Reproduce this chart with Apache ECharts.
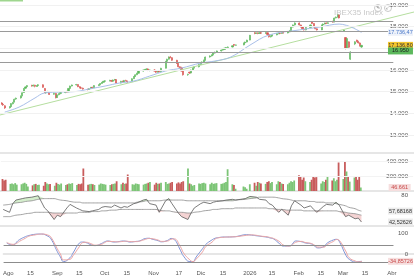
<!DOCTYPE html>
<html>
<head>
<meta charset="utf-8">
<script src="https://cdn.jsdelivr.net/npm/echarts@6/dist/echarts.min.js"></script>
<style>
  html, body { margin: 0; padding: 0; background: #fff; }
  #chart { width: 414px; height: 276px; }
</style>
</head>
<body>
<div id="chart"></div>
<script>
(function () {
  'use strict';

  // ---- data ----
  var firstDay = '2025-07-30', lastDay = '2026-03-13';
  var holidays = ['2025-12-25', '2025-12-26', '2026-01-01'];

  // [open, close, low, high] per trading day
  var candles = [
    [14480,14430,14390,14520],[14420,14390,14340,14470],[14350,14250,14200,14380],[14260,14300,14220,14340],
    [14310,14450,14290,14470],[14440,14500,14410,14530],[14520,14650,14500,14680],[14660,14700,14620,14730],
    [14710,14800,14680,14830],[14810,14950,14790,14970],[14960,15150,14940,15170],[15160,15220,15120,15250],
    [15230,15280,15200,15300],[15290,15260,15230,15320],[15260,15300,15240,15330],[15300,15250,15200,15320],
    [15240,15280,15220,15300],[15280,15320,15250,15350],[15320,15200,15180,15340],[15150,14960,14930,15170],
    [14950,14990,14900,15020],[14990,15010,14960,15040],[15000,14870,14850,15010],[14880,14920,14860,14950],
    [14920,14720,14690,14940],[14730,14850,14710,14870],[14860,14910,14830,14930],[14920,14960,14880,15000],
    [14960,15000,14930,15030],[15000,14980,14950,15040],[14990,15150,14980,15170],[15150,15260,15140,15280],
    [15260,15310,15240,15330],[15310,15330,15280,15360],[15330,15230,15210,15350],[15230,15180,15150,15260],
    [15180,15160,15120,15220],[15160,15120,15090,15190],[15110,15100,15060,15140],[15100,15140,15080,15170],
    [15140,15200,15120,15220],[15200,15170,15140,15230],[15170,15280,15160,15300],[15280,15320,15260,15340],
    [15320,15380,15300,15400],[15380,15430,15360,15450],[15430,15480,15410,15500],[15480,15500,15460,15530],
    [15500,15520,15470,15550],[15520,15480,15450,15540],[15480,15540,15460,15560],[15540,15560,15510,15590],
    [15560,15400,15380,15580],[15400,15480,15380,15500],[15480,15450,15400,15510],[15450,15520,15430,15540],
    [15520,15500,15470,15550],[15490,15450,15400,15510],[15460,15600,15450,15620],[15600,15700,15590,15720],
    [15700,15780,15680,15800],[15780,15850,15760,15870],[15850,15950,15830,15970],[15950,16000,15920,16030],
    [16000,16020,15970,16050],[16020,16050,15990,16080],[16050,15980,15950,16070],[15980,16000,15940,16030],
    [16000,15950,15920,16040],[15950,15900,15860,15980],[15900,15960,15880,15990],[15960,15920,15890,15990],
    [15920,16080,15900,16100],[16080,16400,16070,16420],[16400,16500,16380,16520],[16500,16600,16480,16630],
    [16600,16580,16540,16650],[16570,16450,16420,16600],[16450,16300,16280,16470],[16300,16150,16120,16320],
    [16150,16100,16060,16180],[16100,15950,15920,16150],[15950,15780,15740,15970],[15780,15800,15730,15830],
    [15900,15860,15820,15920],[15860,16000,15840,16020],[16000,16100,15980,16120],[16100,16150,16070,16170],
    [16150,16250,16120,16270],[16250,16350,16230,16370],[16350,16370,16320,16400],[16370,16450,16350,16480],
    [16450,16600,16430,16620],[16600,16650,16570,16680],[16650,16700,16620,16720],[16700,16780,16680,16800],
    [16780,16820,16750,16850],[16820,16880,16800,16900],[16880,16920,16850,16950],[16920,16950,16890,16980],
    [16950,17010,16930,17030],[17010,17040,16980,17060],[17040,17060,17010,17090],[17060,17120,17040,17140],
    [17180,17140,17100,17200],[17140,17160,17120,17180],[17160,17250,17140,17270],[17250,17290,17220,17310],
    [17290,17380,17270,17400],[17380,17600,17370,17620],[17720,17690,17650,17750],[17690,17710,17660,17740],
    [17710,17690,17650,17740],[17690,17720,17670,17750],[17720,17700,17670,17760],[17700,17720,17660,17750],
    [17720,17640,17600,17740],[17640,17530,17500,17660],[17530,17580,17500,17600],[17580,17620,17550,17650],
    [17620,17680,17600,17700],[17680,17710,17650,17740],[17710,17690,17650,17730],[17690,17730,17670,17760],
    [17730,17710,17680,17750],[17710,17760,17690,17780],[17760,17820,17740,17850],[17820,17980,17800,18000],
    [17980,18080,17960,18100],[18080,18170,18050,18200],[18170,18080,18050,18200],[18080,17990,17960,18100],
    [17990,17900,17870,18010],[17880,17850,17820,17930],[17850,17960,17830,17980],[17960,18080,17940,18100],
    [18220,18150,18120,18250],[18150,18000,17980,18170],[18000,17900,17880,18020],[17900,17850,17820,17930],
    [17850,18080,17840,18100],[18080,18120,18050,18150],[18120,18170,18100,18190],[18170,18150,18120,18200],
    [18150,18180,18130,18210],[18250,18210,18180,18270],[18210,18400,18200,18420],[18400,18440,18380,18470],
    [18440,18540,18420,18570],[18540,18400,18380,18560],[17800,17840,17780,17870],[17500,17000,16950,17520],
    [17000,17450,16980,17480],[17300,17050,17000,17320],[16500,16830,16460,16870],[17200,17300,17150,17330],
    [17380,17320,17280,17400],[17320,17250,17220,17350],[17250,17120,17080,17280],[17060,17137,17020,17160]
  ];

  var volumes = [
    160,140,150,95,100,90,105,85,90,100,110,95,60,75,90,95,80,85,70,120,
    100,90,95,70,110,95,85,100,80,90,100,95,105,80,95,90,100,300,85,90,
    95,90,80,85,100,95,90,85,80,90,95,100,130,90,110,95,100,220,90,85,
    100,95,90,85,95,100,110,120,85,110,95,100,110,120,95,100,110,120,100,115,
    100,120,130,300,100,90,70,80,100,95,105,110,100,90,110,95,100,105,95,100,
    110,120,290,90,80,30,60,50,30,90,110,70,120,110,100,95,120,130,105,120,
    90,130,120,100,95,90,110,130,120,140,210,200,150,180,130,120,150,190,180,185,
    100,130,120,150,190,140,170,130,150,380,160,390,260,200,125,180,200,150,190,46.661
  ];

  // oscillators, every second trading day (indices 1, 3, ... 159)
  var rsi = [
    60,56,68,73,75,76,77,78,79,62,58,46,52,50,62,67,62,60,58,57,
    58,60,63,64,63,66,62,64,63,68,69,73,74,68,66,56,72,75,68,55,
    50,46,55,62,68,70,68,70,71,72,73,74,73,75,78,77,74,73,68,66,
    56,60,52,65,72,66,62,65,60,56,64,67,66,70,66,50,52,47,48,42.52626
  ];
  var rsiUpper = [
    66,67,68,69,70,71,72,73,74,75,75,75,74,73,72,71,70,70,69,69,
    69,69,69,69,69,69,69,69,69,69,70,71,72,72,72,72,73,73,73,73,
    73,72,72,72,72,72,72,72,72,72,72,72,73,74,75,76,77,77,77,77,
    76,75,74,73,72,72,72,71,71,70,70,69,69,68,67,65,63,61,59,57.68168
  ];
  var rsiLower = [
    50,50,51,52,53,54,55,56,56,56,56,55,55,55,55,55,55,56,56,56,
    57,57,58,58,59,59,60,60,60,60,60,60,60,60,60,59,58,58,57,56,
    56,55,55,56,57,58,59,60,60,61,61,61,62,62,62,62,62,62,61,61,
    60,60,59,59,59,59,58,58,58,58,58,58,58,58,57,56,55,54,53,52
  ];
  var stochK = [
    52,42,55,68,83,88,94,95,95,85,72,12,-14,-36,-18,5,52,57,55,42,
    40,50,58,62,57,58,62,60,57,60,62,74,75,71,63,58,65,74,70,18,
    -10,-36,-36,-14,25,45,67,75,78,81,81,82,84,92,90,86,84,80,76,72,
    48,38,38,48,62,58,53,48,38,29,36,52,67,70,55,-8,-25,-38,-36,-34.85726
  ];
  var stochD = [
    55,46,50,60,76,85,91,94,95,90,80,25,0,-28,-25,-8,35,54,56,47,
    42,46,54,60,59,58,60,61,59,59,61,70,74,73,66,60,62,70,72,35,
    5,-28,-36,-24,10,35,56,71,77,80,81,82,83,89,91,88,85,82,78,74,
    58,43,38,44,56,60,55,50,42,33,33,45,60,69,62,10,-18,-34,-37,-35
  ];

  // blue moving average, sampled
  var maDates = ['2025-08-01','2025-08-10','2025-08-20','2025-08-26','2025-09-05','2025-09-15','2025-09-23',
    '2025-10-03','2025-10-12','2025-10-21','2025-10-31','2025-11-10','2025-11-20','2025-12-02','2025-12-11',
    '2025-12-21','2026-01-02','2026-01-14','2026-02-02','2026-02-15','2026-02-27','2026-03-13'];
  var maValues = [14060,14290,14710,14940,14985,15010,15125,15260,15400,15490,15720,15955,16090,16320,16415,
    16600,17150,17615,17850,17985,18120,17736.47];

  var trendDates = ['2025-07-29', '2026-04-15'];
  var trendValues = [13925, 18677];

  var levels = [18240, 17780, 16830, 16370];
  var priceTicks = [13000, 14000, 15000, 16000, 17000, 18000, 19000];
  var volumeTicks = [200000, 400000];

  var priceTags = [
    { value: 17736.47, text: '17.736,47', bg: '#eef2fa', fg: '#4a78c8' },
    { value: 17136.8, text: '17.136,80', bg: '#f3c52d', fg: '#333' },
    { value: 16880, text: '16.950', bg: '#5cb85c', fg: '#1c1c1c' }
  ];

  var xTickDates = ['2025-08-01','2025-08-15','2025-09-01','2025-09-15','2025-10-01','2025-10-15','2025-11-01',
    '2025-11-17','2025-12-01','2025-12-15','2026-01-01','2026-01-15','2026-02-01','2026-02-15','2026-03-01',
    '2026-03-15','2026-04-01'];
  var xTickLabels = ['Ago','15','Sep','15','Oct','15','Nov','17','Dic','15','2026','15','Feb','15','Mar','15','Abr'];

  // ---- helpers ----
  function D(s) {
    var p = s.split('-');
    return new Date(+p[0], +p[1] - 1, +p[2]).getTime();
  }
  function fmt(v, dec) {
    var s = Math.abs(v).toFixed(dec || 0).split('.');
    var int = s[0].replace(/\B(?=(\d{3})+(?!\d))/g, '.');
    return (v < 0 ? '-' : '') + int + (s[1] ? ',' + s[1] : '');
  }

  var days = [];
  var t = new Date(D(firstDay)), end = D(lastDay);
  while (t.getTime() <= end) {
    var wd = t.getDay();
    var key = t.getFullYear() + '-' + ('0' + (t.getMonth() + 1)).slice(-2) + '-' + ('0' + t.getDate()).slice(-2);
    if (wd !== 0 && wd !== 6 && holidays.indexOf(key) < 0) days.push(t.getTime());
    t.setDate(t.getDate() + 1);
  }
  var oscDays = days.filter(function (d, i) { return i % 2 === 1; });

  var xMin = D('2025-07-29'), xMax = D('2026-04-15');
  var lineEnd = D('2026-04-02');
  var tagT = D('2026-04-06') + 12 * 3600e3;
  var up = '#5cb85c', down = '#d9534f';
  var volUp = '#7cc576', volDown = '#c85c5c';

  var candleData = candles.map(function (c, i) { return [days[i], c[0], c[1], c[2], c[3]]; });
  var volData = volumes.map(function (v, i) {
    var c = candles[i];
    return { value: [days[i], v * 1000], itemStyle: { color: c[1] >= c[0] ? volUp : volDown } };
  });
  var pair = function (arr, dates) { return arr.map(function (v, i) { return [dates[i], v]; }); };

  var gBase = [], gFill = [], pBase = [], pFill = [];
  rsi.forEach(function (v, i) {
    var u = rsiUpper[i], l = rsiLower[i];
    gBase.push([oscDays[i], u]);
    gFill.push([oscDays[i], Math.max(v - u, 0)]);
    pBase.push([oscDays[i], Math.min(v, l)]);
    pFill.push([oscDays[i], l - Math.min(v, l)]);
  });

  var tickTimes = xTickDates.map(D);

  function xAxis(idx) {
    return {
      type: 'time', gridIndex: idx, min: xMin, max: xMax,
      axisLine: { show: true, lineStyle: { color: '#e6e6e6', width: 2 } },
      axisTick: { show: false },
      splitLine: { show: false },
      axisLabel: { show: false }
    };
  }
  function tag(t, v, text, bg, fg, w) {
    return {
      coord: [t, v], symbol: 'rect', symbolSize: [w || 25, 7],
      itemStyle: { color: bg },
      label: { show: true, position: 'inside', formatter: text, color: fg, fontSize: 5.5, fontFamily: 'Liberation Sans' }
    };
  }
  var labelAxis = {
    type: 'value', gridIndex: 3, min: xMin, max: xMax, position: 'bottom',
    axisLine: { show: false }, axisTick: { show: false }, splitLine: { show: false },
    axisLabel: {
      show: true, customValues: tickTimes, margin: 4,
      fontSize: 6, color: '#555', fontFamily: 'Liberation Sans',
      formatter: function (v) {
        var k = tickTimes.indexOf(v);
        return k >= 0 ? xTickLabels[k] : '';
      }
    }
  };

  var chart = echarts.init(document.getElementById('chart'), null, { renderer: 'canvas' });

  chart.setOption({
    animation: false,
    backgroundColor: '#fff',
    grid: [
      { left: 0, right: 0, top: 0, height: 153 },
      { left: 0, right: 0, top: 155, height: 36 },
      { left: 0, right: 0, top: 194, height: 32 },
      { left: 0, right: 0, top: 229, height: 37 }
    ],
    xAxis: [xAxis(0), xAxis(1), xAxis(2), xAxis(3), labelAxis],
    yAxis: [
      { type: 'value', gridIndex: 0, position: 'right', min: 12170, max: 19231,
        axisLine: { show: false }, axisTick: { show: false }, splitLine: { show: false },
        axisLabel: { inside: true, margin: 6, customValues: priceTicks, formatter: function (v) { return fmt(v); },
          fontSize: 6, color: '#555', fontFamily: 'Liberation Sans' } },
      { type: 'value', gridIndex: 1, position: 'right', min: 0, max: 480000,
        axisLine: { show: false }, axisTick: { show: false }, splitLine: { show: false },
        axisLabel: { inside: true, margin: 6, customValues: volumeTicks,
          formatter: function (v) { return fmt(v); },
          fontSize: 6, color: '#555', fontFamily: 'Liberation Sans' } },
      { type: 'value', gridIndex: 2, position: 'right', min: 37, max: 81.4,
        axisLine: { show: false }, axisTick: { show: false }, splitLine: { show: false },
        axisLabel: { inside: true, margin: 6, customValues: [80], fontSize: 6, color: '#555', fontFamily: 'Liberation Sans' } },
      { type: 'value', gridIndex: 3, position: 'right', min: -57, max: 119,
        axisLine: { show: false }, axisTick: { show: false }, splitLine: { show: false },
        axisLabel: { inside: true, margin: 6, customValues: [100, 0], fontSize: 6, color: '#555', fontFamily: 'Liberation Sans' } }
    ],
    series: [
      {
        type: 'line', xAxisIndex: 0, yAxisIndex: 0, data: [], silent: true,
        markLine: {
          silent: true, symbol: 'none', label: { show: false },
          lineStyle: { color: '#f1f1f1', width: 1, type: 'solid' },
          data: priceTicks.map(function (v) { return [{ coord: [xMin, v] }, { coord: [xMax, v] }]; })
        }
      },
      {
        type: 'line', xAxisIndex: 1, yAxisIndex: 1, data: [], silent: true,
        markLine: {
          silent: true, symbol: 'none', label: { show: false },
          lineStyle: { color: '#f3f3f3', width: 1, type: 'solid' },
          data: volumeTicks.map(function (v) { return [{ coord: [xMin, v] }, { coord: [xMax, v] }]; })
        }
      },
      {
        type: 'line', xAxisIndex: 0, yAxisIndex: 0, data: pair(trendValues, trendDates.map(D)),
        symbol: 'none', lineStyle: { color: '#b5de9f', width: 1 }, silent: true
      },
      {
        type: 'line', xAxisIndex: 0, yAxisIndex: 0, data: pair(maValues, maDates.map(D)), smooth: 0.4,
        symbol: 'none', lineStyle: { color: '#a9bfe9', width: 1 }, silent: true,
        markPoint: { silent: true, data: priceTags.map(function (p) { return tag(tagT, p.value, p.text, p.bg, p.fg); }) }
      },
      {
        type: 'candlestick', xAxisIndex: 0, yAxisIndex: 0, data: candleData, barWidth: 1.6,
        itemStyle: { color: up, color0: down, borderColor: up, borderColor0: down, borderWidth: 0.6 },
        markLine: {
          silent: true, symbol: 'none', label: { show: false },
          lineStyle: { color: '#9a9a9a', width: 1, type: 'solid' },
          data: levels.map(function (v) { return [{ coord: [xMin, v] }, { coord: [lineEnd, v] }]; })
        }
      },
      {
        type: 'bar', xAxisIndex: 1, yAxisIndex: 1, data: volData, barWidth: 1.8,
        markPoint: { silent: true, data: [tag(tagT, volumes[volumes.length - 1] * 1000, fmt(volumes[volumes.length - 1] * 1000),
          '#f6dede', '#c84848', 22)] }
      },
      { type: 'line', xAxisIndex: 2, yAxisIndex: 2, data: gBase, stack: 'g', symbol: 'none', lineStyle: { width: 0 }, silent: true },
      { type: 'line', xAxisIndex: 2, yAxisIndex: 2, data: gFill, stack: 'g', symbol: 'none', lineStyle: { width: 0 },
        areaStyle: { color: '#d5eecd', opacity: 1 }, silent: true },
      { type: 'line', xAxisIndex: 2, yAxisIndex: 2, data: pBase, stack: 'p', symbol: 'none', lineStyle: { width: 0 }, silent: true },
      { type: 'line', xAxisIndex: 2, yAxisIndex: 2, data: pFill, stack: 'p', symbol: 'none', lineStyle: { width: 0 },
        areaStyle: { color: '#f4d3d3', opacity: 1 }, silent: true },
      { type: 'line', xAxisIndex: 2, yAxisIndex: 2, data: pair(rsiUpper, oscDays), smooth: true, symbol: 'none',
        lineStyle: { color: '#8a8a8a', width: 0.8 }, silent: true,
        markPoint: { silent: true, data: [tag(tagT, rsiUpper[rsiUpper.length - 1], fmt(rsiUpper[rsiUpper.length - 1], 5), '#ececec', '#333', 25)] } },
      { type: 'line', xAxisIndex: 2, yAxisIndex: 2, data: pair(rsiLower, oscDays), smooth: true, symbol: 'none',
        lineStyle: { color: '#8a8a8a', width: 0.8 }, silent: true },
      { type: 'line', xAxisIndex: 2, yAxisIndex: 2, data: pair(rsi, oscDays), symbol: 'none',
        lineStyle: { color: '#5a5a5a', width: 0.8 }, silent: true,
        markPoint: { silent: true, data: [tag(tagT, rsi[rsi.length - 1], fmt(rsi[rsi.length - 1], 5), '#ececec', '#333', 25)] } },
      { type: 'line', xAxisIndex: 3, yAxisIndex: 3, data: pair(stochK, oscDays), smooth: true, symbol: 'none',
        lineStyle: { color: '#8195d6', width: 1 }, silent: true,
        markLine: {
          silent: true, symbol: 'none', label: { show: false },
          lineStyle: { color: '#8c8c8c', width: 1, type: 'solid' },
          data: [40, -40].map(function (v) { return [{ coord: [xMin, v] }, { coord: [lineEnd, v] }]; })
        } },
      { type: 'line', xAxisIndex: 3, yAxisIndex: 3, data: pair(stochD, oscDays), smooth: true, symbol: 'none',
        lineStyle: { color: '#eba5a5', width: 1 }, silent: true,
        markPoint: { silent: true, data: [tag(tagT, stochK[stochK.length - 1], fmt(stochK[stochK.length - 1], 5), '#f6dede', '#c84848', 25)] } }
    ],
    graphic: [
      { type: 'rect', shape: { x: 0, y: 0, width: 23, height: 1.5 }, style: { fill: '#9fd68f' }, silent: true },
      { type: 'text', left: 334, top: 9, style: { text: 'IBEX35 Index', fontSize: 8, fill: '#c8c8c8', fontFamily: 'Liberation Sans' }, silent: true },
      { type: 'circle', shape: { cx: 378, cy: 8, r: 3.5 }, style: { fill: '#fff', stroke: '#bbb', lineWidth: 0.8 }, silent: true },
      { type: 'circle', shape: { cx: 388, cy: 8, r: 3.5 }, style: { fill: '#fff', stroke: '#bbb', lineWidth: 0.8 }, silent: true },
      { type: 'text', x: 376, y: 5, style: { text: '✎', fontSize: 5, fill: '#666' }, silent: true },
      { type: 'text', x: 386, y: 5, style: { text: '⤢', fontSize: 5, fill: '#666' }, silent: true }
    ]
  });
})();
</script>
</body>
</html>
